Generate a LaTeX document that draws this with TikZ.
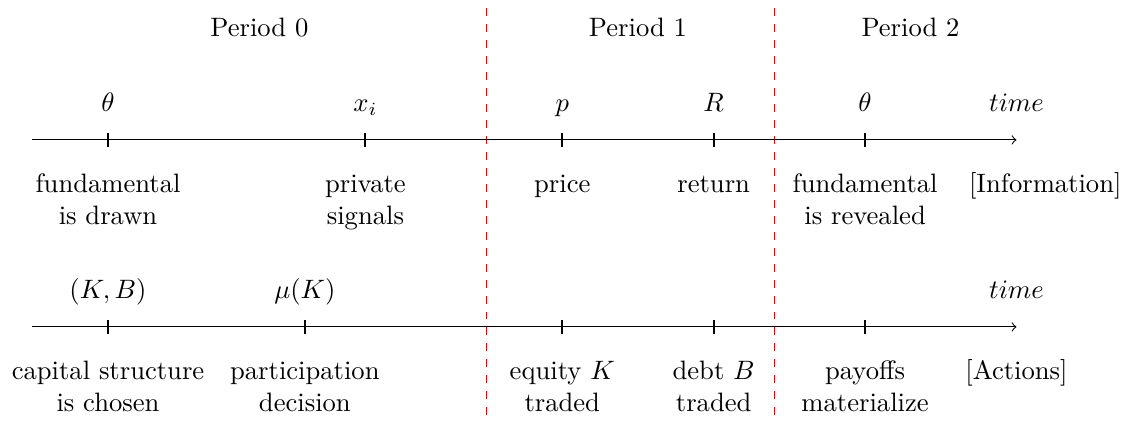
\documentclass[tikz,border=0pt]{standalone}
\usetikzlibrary{positioning}

\begin{document}
\begin{tikzpicture}[>=to, thin]
    \tikzset{
        tickmark/.style={line width=0.8pt},
        periodline/.style={red, dashed},
        evt/.style={anchor=base, inner sep=0pt},
        desc/.style={anchor=base, align=center, inner sep=0pt},
    }
    \useasboundingbox (-1.427,-3.70) rectangle (13.473,1.848);

    % period boundaries
    \coordinate (cutA) at (5,1.74);   \coordinate (cutAb) at (5,-3.70);
    \coordinate (cutB) at (8.8,1.74); \coordinate (cutBb) at (8.8,-3.70);
    \draw[periodline] (cutA) -- (cutAb);
    \draw[periodline] (cutB) -- (cutBb);
    \node[evt] (per0) at (2,1.36) {Period 0};
    \node[evt] (per1) at (7.0,1.36) {Period 1};
    \node[evt] (per2) at (10.6,1.36) {Period 2};

    % information timeline (\dy = extra drop for two-line labels)
    \coordinate (infoL) at (-1,0);
    \coordinate (infoR) at (12,0);
    \draw[->] (infoL) -- (infoR);
    \foreach \x/\lab/\txt/\dy [count=\i] in {0/{$\theta$}/{fundamental\\is drawn}/0.422, 3.4/{$x_i$}/{private\\signals}/0.422, 6/{$p$}/{price}/0, 8/{$R$}/{return}/0, 10/{$\theta$}/{fundamental\\is revealed}/0.422} {
        \coordinate (it\i) at (\x,0);
        \draw[tickmark] ([yshift=2.5pt]it\i) -- ([yshift=-2.5pt]it\i);
        \node[evt] (ia\i) at (\x,0.37) {\lab};
        \node[desc] (ib\i) at (\x,{-0.70-\dy}) {\txt};
    }
    \node[evt] (itime) at (12,0.37) {$time$};
    \node[desc] (itag) at (12.38,-0.70) {[Information]};

    % actions timeline
    \coordinate (actL) at (-1,-2.47);
    \coordinate (actR) at (12,-2.47);
    \draw[->] (actL) -- (actR);
    \foreach \x/\lab/\txt [count=\i] in {0/{$(K,B)$}/{capital structure\\is chosen}, 2.6/{$\mu(K)$}/{participation\\decision}, 6/{}/{equity $K$\\traded}, 8/{}/{debt $B$\\traded}, 10/{}/{payoffs\\materialize}} {
        \coordinate (at\i) at (\x,-2.47);
        \draw[tickmark] ([yshift=2.5pt]at\i) -- ([yshift=-2.5pt]at\i);
        \node[evt] (aa\i) at (\x,-2.10) {\lab};
        \node[desc] (ab\i) at (\x,-3.592) {\txt};
    }
    \node[evt] (atime) at (12,-2.10) {$time$};
    \node[desc] (atag) at (12,-3.17) {[Actions]};
\end{tikzpicture}
\end{document}
